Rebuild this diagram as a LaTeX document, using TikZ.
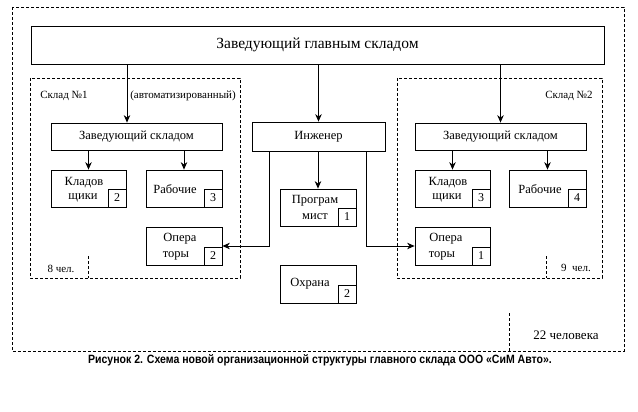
\documentclass[tikz,border=0pt]{standalone}
\usepackage{fontspec}
\setmainfont{Liberation Serif}
\newfontfamily\capfont{Liberation Sans}
\usetikzlibrary{arrows.meta,calc}
\tikzset{
  box/.style={draw, line width=0.8pt, inner sep=0pt},
  numbox/.style={draw, line width=0.8pt, inner sep=0pt, minimum width=18pt, minimum height=18pt, anchor=south east, font=\fontsize{12}{12}\selectfont},
  dashbox/.style={draw, line width=0.7pt, dash pattern=on 3pt off 2pt},
  arr/.style={draw, line width=0.8pt, -{Stealth[length=7.5pt,width=6.5pt,inset=2.5pt]}},
  txt/.style={inner sep=0pt, font=\fontsize{12.5}{15}\selectfont, align=center},
  lbl/.style={inner sep=0pt, font=\fontsize{11}{13}\selectfont}
}
\begin{document}
\begin{tikzpicture}[x=1pt,y=-1pt]
\useasboundingbox[fill=white] (0,0) rectangle (638,412);
% dashed frames
\draw[dashbox] (12,7) rectangle (624,351);
\draw[dashbox] (30,78) rectangle (240,278);
\draw[dashbox] (397,78) rectangle (602,278);
\draw[dashbox] (88,256) -- (88,278);
\draw[dashbox] (546,256) -- (546,278);
\draw[dashbox] (509,313) -- (509,351);
% boxes
\node[box, minimum width=573pt, minimum height=38pt] (top) at (317.5,45) {};
\node[txt, font=\fontsize{15.5}{18}\selectfont] at (top) {Заведующий главным складом};
\node[box, minimum width=171pt, minimum height=27pt] (zs1) at (136.5,136.5) {};
\node[txt] at (zs1) {Заведующий складом};
\node[box, minimum width=171pt, minimum height=27pt] (zs2) at (500.5,136.5) {};
\node[txt] at (zs2) {Заведующий складом};
\node[box, minimum width=133pt, minimum height=29pt] (eng) at (318.5,136.5) {};
\node[txt] at (eng) {Инженер};
\node[box, minimum width=75pt, minimum height=37pt] (k1) at (88.5,188.5) {};
\node[box, minimum width=76pt, minimum height=37pt] (r1) at (184,188.5) {};
\node[box, minimum width=76pt, minimum height=38pt] (o1) at (184,246) {};
\node[box, minimum width=75pt, minimum height=37pt] (k2) at (452.5,188.5) {};
\node[box, minimum width=77pt, minimum height=37pt] (r2) at (547.5,188.5) {};
\node[box, minimum width=75pt, minimum height=38pt] (o2) at (452.5,246) {};
\node[box, minimum width=76pt, minimum height=37pt] (pr) at (318,207.5) {};
\node[box, minimum width=76pt, minimum height=38pt] (oh) at (318,284) {};
% number boxes
\node[numbox] (nk1) at (k1.south east) {2};
\node[numbox] (nr1) at (r1.south east) {3};
\node[numbox] (no1) at (o1.south east) {2};
\node[numbox] (nk2) at (k2.south east) {3};
\node[numbox] (nr2) at (r2.south east) {4};
\node[numbox] (no2) at (o2.south east) {1};
\node[numbox] (npr) at (pr.south east) {1};
\node[numbox] (noh) at (oh.south east) {2};
% box texts
\node[txt] at (84,183) {Кладов};
\node[txt] at (83,198) {щики};
\node[txt] at (175,189) {Рабочие};
\node[txt] at (180,239) {Опера};
\node[txt] at (176,256) {торы};
\node[txt] at (448,183) {Кладов};
\node[txt] at (447,198) {щики};
\node[txt] at (540,189) {Рабочие};
\node[txt] at (446,239) {Опера};
\node[txt] at (442,256) {торы};
\node[txt] at (315,201) {Програм};
\node[txt] at (315,217) {мист};
\node[txt] at (310,284) {Охрана};
% labels
\node[lbl] at (64,96) {Склад №1};
\node[lbl] at (183,96) {(автоматизированный)};
\node[lbl] at (569,96) {Склад №2};
\node[lbl] at (61,269) {8 чел.};
\node[lbl] at (576,268) {9\ \ чел.};
\node[txt, font=\fontsize{13}{15}\selectfont] at (566,335) {22 человека};
% arrows
\draw[arr] ([xshift=-9.5pt]zs1.north |- top.south) -- ([xshift=-9.5pt]zs1.north);
\draw[arr] (eng.north |- top.south) -- (eng.north);
\draw[arr] (zs2.north |- top.south) -- (zs2.north);
\draw[arr] (k1.north |- zs1.south) -- (k1.north);
\draw[arr] (r1.north |- zs1.south) -- (r1.north);
\draw[arr] (k2.north |- zs2.south) -- (k2.north);
\draw[arr] (r2.north |- zs2.south) -- (r2.north);
\draw[arr] (pr.north |- eng.south) -- (pr.north);
\draw[arr] ([xshift=18pt]eng.south west) |- (o1.east);
\draw[arr] ([xshift=-19pt]eng.south east) |- (o2.west);
% caption
\node[inner sep=0pt] (cap) at (320,360) {\scalebox{0.877}[1]{\capfont\bfseries\fontsize{12}{12}\selectfont Рисунок 2. Схема новой организационной структуры главного склада ООО «СиМ Авто».}};
\end{tikzpicture}
\end{document}
